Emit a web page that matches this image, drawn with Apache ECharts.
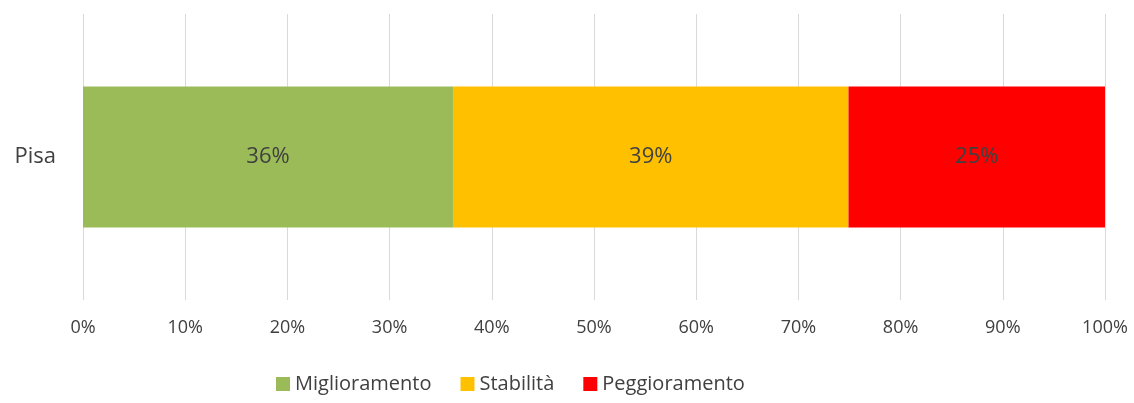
<!DOCTYPE html>
<html>
<head>
<meta charset="utf-8">
<script src="https://cdn.jsdelivr.net/npm/echarts@6/dist/echarts.min.js"></script>
<style>
  html, body { margin: 0; padding: 0; background: #fff; }
  #main { width: 1134px; height: 403px; }
</style>
</head>
<body>
<div id="main"></div>
<script>
const categories = ["Pisa"];
const seriesNames = ["Miglioramento", "Stabilità", "Peggioramento"];
const miglioramento = [36.2];
const stabilita = [38.7];
const peggioramento = [25.1];
const xTicks = [0, 10, 20, 30, 40, 50, 60, 70, 80, 90, 100];

const colors = ["#9BBB59", "#FFC000", "#FF0000"];
const font = "'Open Sans', 'DejaVu Sans', sans-serif";

const myChart = echarts.init(document.getElementById("main"));

function makeSeries(name, data, color) {
  return {
    name: name,
    type: "bar",
    stack: "total",
    barWidth: 141,
    data: data,
    itemStyle: { color: color },
    label: {
      show: true,
      position: "inside",
      color: "#404040",
      fontFamily: font,
      fontSize: 22,
      formatter: (p) => Math.round(p.value) + "%",
    },
  };
}

let option = {
  animation: false,
  grid: {
    left: 83,
    right: 29,
    top: 14,
    bottom: 103,
    containLabel: false,
  },
  legend: {
    data: seriesNames,
    bottom: 4,
    left: 271,
    itemWidth: 14,
    itemHeight: 14,
    itemGap: 29,
    icon: "rect",
    textStyle: { fontFamily: font, fontSize: 20, color: "#404040" },
  },
  xAxis: {
    type: "value",
    min: xTicks[0],
    max: xTicks[xTicks.length - 1],
    interval: 10,
    axisLine: { show: false },
    axisTick: { show: false },
    splitLine: { lineStyle: { color: "#d9d9d9", width: 1 } },
    axisLabel: {
      margin: 19,
      fontFamily: font,
      fontSize: 18,
      color: "#404040",
      formatter: (v) => v + "%",
    },
  },
  yAxis: {
    type: "category",
    data: categories,
    axisLine: { show: false },
    axisTick: { show: false },
    axisLabel: {
      margin: 27,
      fontFamily: font,
      fontSize: 22,
      color: "#404040",
    },
  },
  series: [
    makeSeries(seriesNames[0], miglioramento, colors[0]),
    makeSeries(seriesNames[1], stabilita, colors[1]),
    makeSeries(seriesNames[2], peggioramento, colors[2]),
  ],
};
myChart.setOption(option);
</script>
</body>
</html>
